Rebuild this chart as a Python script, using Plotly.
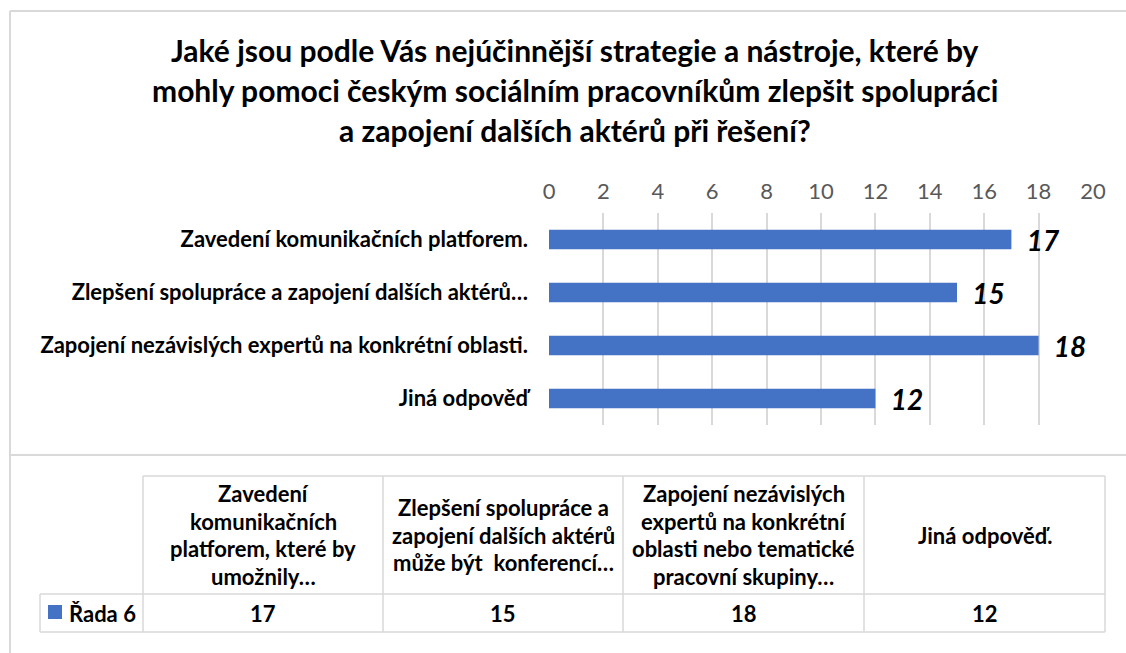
import plotly.graph_objects as go

# ── Data ─────────────────────────────────────────────────────────────────────

TITLE_LINES = [
    "Jaké jsou podle Vás nejúčinnější strategie a nástroje, které by",
    "mohly pomoci českým sociálním pracovníkům zlepšit spolupráci",
    "a zapojení dalších aktérů při řešení?",
]
categories = [
    "Zavedení komunikačních platforem.",
    "Zlepšení spolupráce a zapojení dalších aktérů…",
    "Zapojení nezávislých expertů na konkrétní oblasti.",
    "Jiná odpověď",
]
values = [17, 15, 18, 12]
series_name = "Řada 6"
table_headers = [
    ["Zavedení", "komunikačních", "platforem, které by", "umožnily…"],
    ["Zlepšení spolupráce a", "zapojení dalších aktérů", "může být  konferencí…"],
    ["Zapojení nezávislých", "expertů na konkrétní", "oblasti nebo tematické", "pracovní skupiny…"],
    ["Jiná odpověď."],
]
x_ticks = list(range(0, 21, 2))

# ── Layout helpers ───────────────────────────────────────────────────────────

W, H = 1126, 653
FONT = "Lato, 'Open Sans', sans-serif"
BAR = "#4472C4"
LINE = "#D9D9D9"


def px(x):
    return x / W


def py(y):
    return 1 - y / H


def hline(x0, x1, y, color=LINE, width=1.5):
    return dict(type="line", xref="paper", yref="paper",
                x0=px(x0), x1=px(x1), y0=py(y), y1=py(y),
                line=dict(color=color, width=width))


def vline(x, y0, y1, color=LINE, width=1.5):
    return dict(type="line", xref="paper", yref="paper",
                x0=px(x), x1=px(x), y0=py(y0), y1=py(y1),
                line=dict(color=color, width=width))


fig = go.Figure()
fig.add_trace(go.Bar(
    y=categories, x=values, orientation="h",
    marker=dict(color=BAR, line=dict(width=0)),
    width=0.37,
    text=values, texttemplate="  %{text}", textposition="outside",
    constraintext="none",
    textfont=dict(family=FONT, size=28, color="black", weight="bold", style="italic"),
    cliponaxis=False, name=series_name, showlegend=False,
))

shapes = [
    hline(10, W, 11, width=2),
    vline(10, 11, H, width=2),
    hline(10, W, 455, width=2),
]

annotations = []
for i, line in enumerate(TITLE_LINES):
    annotations.append(dict(
        text=line, x=px(575), y=py(50 + 40 * i), xref="paper", yref="paper",
        xanchor="center", yanchor="middle", showarrow=False,
        font=dict(family=FONT, size=30, color="black", weight="bold"),
    ))

# ── Data table under the chart ───────────────────────────────────────────────

col_edges = [143, 383, 623, 864, 1105]
top, mid, bottom = 476, 594, 632
shapes.append(hline(143, 1105, top))
shapes.append(hline(40, 1105, mid))
shapes.append(hline(40, 1105, bottom))
shapes.append(vline(40, mid, bottom))
for x in col_edges:
    shapes.append(vline(x, top, bottom))

cell_font = dict(family=FONT, size=22, color="black", weight="bold")
for j, lines in enumerate(table_headers):
    cx = (col_edges[j] + col_edges[j + 1]) / 2
    n = len(lines)
    for k, line in enumerate(lines):
        cy = (top + mid) / 2 + (k - (n - 1) / 2) * 27.5
        annotations.append(dict(
            text=line, x=px(cx), y=py(cy), xref="paper", yref="paper",
            xanchor="center", yanchor="middle", showarrow=False, font=cell_font,
        ))
    annotations.append(dict(
        text=str(values[j]), x=px(cx), y=py((mid + bottom) / 2),
        xref="paper", yref="paper", xanchor="center", yanchor="middle",
        showarrow=False, font=cell_font,
    ))

shapes.append(dict(type="rect", xref="paper", yref="paper",
                   x0=px(48), x1=px(62), y0=py(619), y1=py(605),
                   fillcolor=BAR, line=dict(width=0)))
annotations.append(dict(
    text=series_name, x=px(67), y=py(613), xref="paper", yref="paper",
    xanchor="left", yanchor="middle", showarrow=False, font=cell_font,
))

fig.update_layout(
    width=W, height=H,
    margin=dict(l=0, r=0, t=0, b=0, pad=0),
    paper_bgcolor="white", plot_bgcolor="white",
    font=dict(family=FONT),
    xaxis=dict(
        domain=[px(549), px(1093)], range=[0, 20], side="top",
        tickvals=x_ticks, showgrid=True, gridcolor=LINE, gridwidth=1.5,
        zeroline=False, showline=False, ticks="", automargin=False,
        tickfont=dict(family=FONT, size=22, color="#595959"),
        ticklabelstandoff=9,
    ),
    yaxis=dict(
        domain=[py(425), py(213)], autorange="reversed",
        showgrid=False, zeroline=False, showline=False, ticks="", automargin=False,
        tickfont=dict(family=FONT, size=22, color="black", weight="bold"),
        ticklabelstandoff=20,
    ),
    shapes=shapes, annotations=annotations,
)

fig.write_html(
    "out.html",
    config={"displayModeBar": False},
    post_script="document.body.style.margin='0';document.body.style.overflow='hidden';",
)
